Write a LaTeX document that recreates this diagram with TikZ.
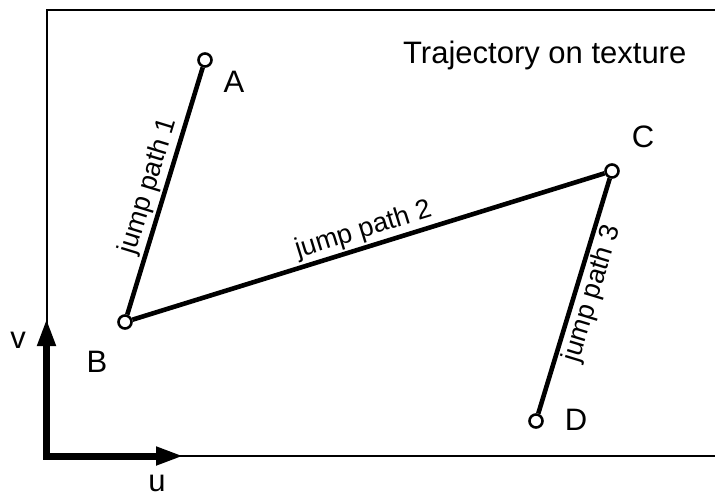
\documentclass[tikz,border=0pt]{standalone}
\usepackage{fontspec}
\setmainfont{Liberation Sans}
\usetikzlibrary{arrows.meta}
\begin{document}
\begin{tikzpicture}[x=1pt,y=-1pt,
  pnt/.style={circle,draw,fill=white,line width=2.6pt,minimum size=13pt,inner sep=0pt},
  lbl/.style={font=\fontsize{31}{31}\selectfont,inner sep=0pt,anchor=base},
  jpath/.style={line width=4.6pt},
  jlbl/.style={font=\fontsize{27}{27}\selectfont,sloped,inner sep=2pt},
  frame/.style={line width=2.4pt},
  axis/.style={line width=7pt,line join=miter,{Triangle[length=28pt,width=17pt]}-{Triangle[length=28pt,width=17pt]}}
]
\useasboundingbox (0,0) rectangle (715,491);
% frame
\coordinate (f1) at (715,10);
\coordinate (f2) at (47,10);
\coordinate (f3) at (47,456);
\coordinate (f4) at (715,456);
\draw[frame] (f1) -- (f2) -- (f3) -- (f4);
% axes
\coordinate (O) at (46.5,456);
\coordinate (vtip) at (46.5,318);
\coordinate (utip) at (184,456);
\draw[axis] (vtip) -- (O) -- (utip);
\node[lbl] (v) at (18,348) {v};
\node[lbl] (u) at (157,491) {u};
% title
\node[lbl,anchor=base west] (title) at (403,63) {Trajectory on texture};
% points
\node[pnt] (A) at (205,60) {};
\node[pnt] (B) at (125,322) {};
\node[pnt] (C) at (612,171) {};
\node[pnt] (D) at (536,421) {};
\node[lbl] (la) at (234,92) {A};
\node[lbl] (lb) at (97,372) {B};
\node[lbl] (lc) at (643,147) {C};
\node[lbl] (ld) at (576,430) {D};
% paths
\draw[jpath] (B) -- node[jlbl,above] (j1) {jump path 1} (A);
\draw[jpath] (B) -- node[jlbl,above] (j2) {jump path 2} (C);
\draw[jpath] (D) -- node[jlbl,below,pos=0.53] (j3) {jump path 3} (C);
\end{tikzpicture}
\end{document}
